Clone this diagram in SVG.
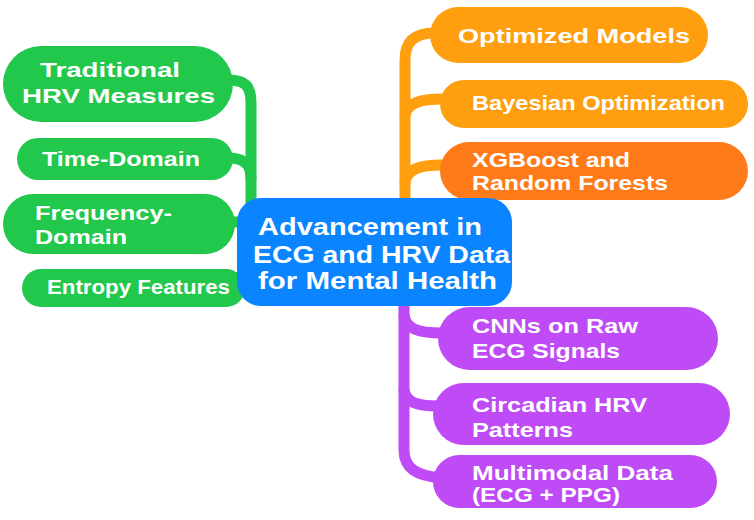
<svg xmlns="http://www.w3.org/2000/svg" width="754" height="520" viewBox="0 0 754 520">
<style>
.t{font-family:"Liberation Sans",Arial,sans-serif;font-weight:bold;fill:#fff;font-size:21px}
.h{font-size:23px}
.c{fill:none;stroke-width:11;stroke-linecap:round}
.g{fill:#22C84B}.gs{stroke:#22C84B}
.o{fill:#FF9F0F}.os{stroke:#FF9F0F}
.o2{fill:#FF7A18}
.p{fill:#BE4BF5}.ps{stroke:#BE4BF5}
.b{fill:#0A84FF}
</style>
<rect width="754" height="520" fill="#fff"/>
<g id="connectors">
<path class="c gs" d="M228 80 C246 80 251 86 251 104 L251 215"/>
<path class="c gs" d="M228 158 C244 158 251 164 251 178"/>
<path class="c gs" d="M230 222 L245 222"/>
<path class="c os" d="M435 33 C414 33 405 42 405 60 L405 210"/>
<path class="c os" d="M442 99 C420 99 407 103 405 115"/>
<path class="c os" d="M442 165 C420 165 407 169 405 182"/>
<path class="c ps" d="M404 295 L404 450 C404 468 416 476 442 478"/>
<path class="c ps" d="M404 315 C406 328 416 333 442 333"/>
<path class="c ps" d="M404 390 C406 402 416 406 438 406"/>
</g>
<g id="n-traditional"><rect class="g" x="3" y="46" width="230" height="76" rx="38"/>
<text class="t" x="40" y="77" textLength="140" lengthAdjust="spacingAndGlyphs">Traditional</text>
<text class="t" x="22" y="103" textLength="193" lengthAdjust="spacingAndGlyphs">HRV Measures</text></g>
<g id="n-time"><rect class="g" x="17" y="138" width="216" height="42" rx="21"/>
<text class="t" x="42" y="166" textLength="158" lengthAdjust="spacingAndGlyphs">Time-Domain</text></g>
<g id="n-freq"><rect class="g" x="3" y="194" width="232" height="60" rx="30"/>
<text class="t" x="35" y="220" textLength="137" lengthAdjust="spacingAndGlyphs">Frequency-</text>
<text class="t" x="35" y="244" textLength="92" lengthAdjust="spacingAndGlyphs">Domain</text></g>
<g id="n-entropy"><rect class="g" x="22" y="269" width="223" height="38" rx="19"/>
<text class="t" x="47" y="294" textLength="183" lengthAdjust="spacingAndGlyphs">Entropy Features</text></g>
<g id="n-optimized"><rect class="o" x="430" y="7" width="278" height="56" rx="28"/>
<text class="t" x="458" y="43" textLength="232" lengthAdjust="spacingAndGlyphs">Optimized Models</text></g>
<g id="n-bayesian"><rect class="o" x="440" y="80" width="308" height="48" rx="24"/>
<text class="t" x="472" y="110" textLength="253" lengthAdjust="spacingAndGlyphs">Bayesian Optimization</text></g>
<g id="n-xgboost"><rect class="o2" x="440" y="142" width="308" height="58" rx="29"/>
<text class="t" x="472" y="167" textLength="158" lengthAdjust="spacingAndGlyphs">XGBoost and</text>
<text class="t" x="472" y="190" textLength="196" lengthAdjust="spacingAndGlyphs">Random Forests</text></g>
<g id="n-hub"><rect class="b" x="237" y="198" width="275" height="108" rx="24"/>
<text class="t h" x="258" y="235" textLength="224" lengthAdjust="spacingAndGlyphs">Advancement in</text>
<text class="t h" x="253" y="263" textLength="257" lengthAdjust="spacingAndGlyphs">ECG and HRV Data</text>
<text class="t h" x="258" y="289" textLength="239" lengthAdjust="spacingAndGlyphs">for Mental Health</text></g>
<g id="n-cnn"><rect class="p" x="438" y="307" width="280" height="63" rx="31.5"/>
<text class="t" x="472" y="333" textLength="166" lengthAdjust="spacingAndGlyphs">CNNs on Raw</text>
<text class="t" x="472" y="358" textLength="148" lengthAdjust="spacingAndGlyphs">ECG Signals</text></g>
<g id="n-circadian"><rect class="p" x="433" y="383" width="297" height="62" rx="31"/>
<text class="t" x="472" y="412" textLength="175" lengthAdjust="spacingAndGlyphs">Circadian HRV</text>
<text class="t" x="472" y="437" textLength="101" lengthAdjust="spacingAndGlyphs">Patterns</text></g>
<g id="n-multimodal"><rect class="p" x="433" y="455" width="284" height="53" rx="26.5"/>
<text class="t" x="472" y="480" textLength="201" lengthAdjust="spacingAndGlyphs">Multimodal Data</text>
<text class="t" x="472" y="502" textLength="148" lengthAdjust="spacingAndGlyphs">(ECG + PPG)</text></g>
</svg>
